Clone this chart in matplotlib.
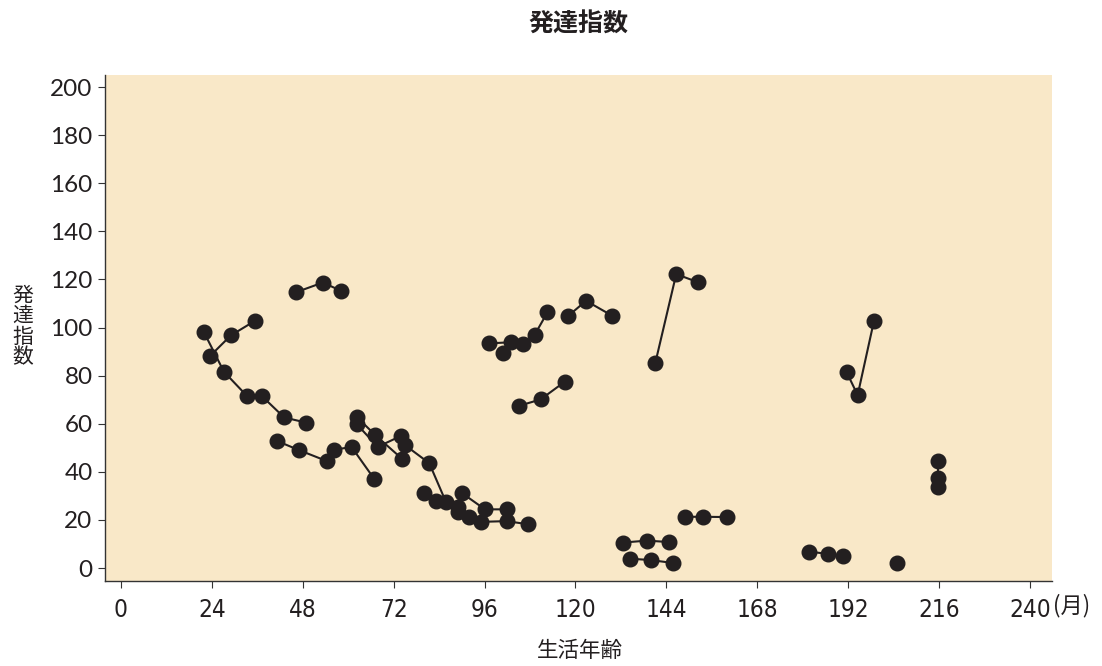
import matplotlib
matplotlib.use("Agg")
import matplotlib.pyplot as plt
import numpy as np

plt.rcParams['font.family'] = ['Noto Sans CJK JP', 'DejaVu Sans']

# case number, age in months, development quotient (one row per measurement)
case_id = [1, 1, 1, 1, 1, 1,
           2, 2, 2,
           3, 3, 3,
           4, 4, 4, 4, 4, 4,
           5, 5, 5,
           6, 6, 6, 6, 6, 6,
           7, 7, 7,
           8, 8, 8,
           9, 9, 9, 9, 9,
           10, 10, 10, 10, 10,
           11,
           12, 12, 12,
           13, 13, 13,
           14, 14, 14,
           15, 15, 15,
           16, 16, 16,
           17, 17, 17,
           18, 18, 18,
           19, 19, 19,
           20,
           21, 21, 21]
age_months = [21.9, 27.2, 33.3, 37.2, 43.1, 48.8,
              23.5, 29.0, 35.4,
              46.1, 53.3, 58.2,
              41.1, 46.9, 54.3, 56.2, 60.9, 66.9,
              62.2, 67.2, 74.3,
              62.2, 67.8, 73.9, 75.0, 81.4, 85.8,
              80.0, 83.3, 88.9,
              90.0, 96.1, 101.8,
              89.1, 92.0, 95.1, 101.8, 107.5,
              97.3, 103.1, 106.2, 109.2, 112.6,
              101.0,
              105.0, 110.8, 117.2,
              117.9, 122.8, 129.7,
              141.1, 146.6, 152.4,
              148.8, 153.7, 159.9,
              132.6, 138.9, 144.7,
              134.3, 140.0, 145.7,
              181.7, 186.6, 190.7,
              191.6, 194.5, 198.8,
              204.8,
              215.6, 215.6, 215.6]
dq = [98.1, 81.6, 71.5, 71.5, 62.6, 60.5,
      88.1, 96.7, 102.8,
      114.6, 118.7, 115.2,
      52.9, 49.1, 44.5, 49.2, 50.3, 37.0,
      62.9, 55.2, 45.3,
      59.9, 50.4, 54.9, 51.1, 43.6, 27.5,
      31.1, 27.8, 25.5,
      31.2, 24.4, 24.4,
      23.3, 21.4, 19.2, 19.5, 18.2,
      93.4, 93.9, 93.1, 96.9, 106.3,
      89.3,
      67.4, 70.1, 77.5,
      104.6, 111.1, 104.9,
      85.4, 122.2, 118.8,
      21.3, 21.3, 21.2,
      10.6, 11.4, 10.8,
      3.9, 3.3, 2.1,
      6.8, 5.9, 5.1,
      81.4, 71.9, 102.7,
      2.1,
      44.5, 37.3, 33.8]

x_ticks = [0, 24, 48, 72, 96, 120, 144, 168, 192, 216, 240]
y_ticks = [0, 20, 40, 60, 80, 100, 120, 140, 160, 180, 200]

ink = '#231f20'

fig = plt.figure(figsize=(11.02, 6.66), dpi=100)
ax = fig.add_axes([0.0953, 0.1276, 0.8593, 0.7598])
ax.set_facecolor('#f9e8c8')

ids = np.array(case_id)
xs = np.array(age_months)
ys = np.array(dq)
for c in np.unique(ids):
    m = ids == c
    ax.plot(xs[m], ys[m], color=ink, lw=1.5, marker='o', ms=10.5,
            mfc=ink, mec=ink, zorder=3)

ax.set_xlim(-4.2, 245.8)
ax.set_ylim(-5.4, 205)
ax.set_xticks(x_ticks)
ax.set_yticks(y_ticks)
ax.set_xticklabels([str(v) for v in x_ticks], family='DejaVu Sans',
                   fontstretch='condensed', fontsize=17.5)
ax.set_yticklabels([str(v) for v in y_ticks], family=['Lato', 'DejaVu Sans'],
                   fontsize=17.5)
ax.tick_params(axis='both', direction='out', length=5, width=0.8, colors='#333333',
               labelcolor=ink)
ax.tick_params(axis='x', pad=7)
ax.tick_params(axis='y', pad=4)

for side in ['top', 'right']:
    ax.spines[side].set_visible(False)
for side in ['left', 'bottom']:
    ax.spines[side].set_color('#333333')
    ax.spines[side].set_linewidth(1.0)

ax.text(246.2, -0.048, '(月)', transform=ax.get_xaxis_transform(), ha='left',
        va='center', fontsize=16, color=ink)

fig.text(0.525, 0.963, '発達指数', ha='center', va='center', fontsize=18,
         fontweight='bold', color=ink)
fig.text(0.526, 0.022, '生活年齢', ha='center', va='center', fontsize=15.5, color=ink)
fig.text(0.021, 0.51, '発\n達\n指\n数', ha='center', va='center', fontsize=15,
         color=ink, linespacing=0.92)

fig.savefig('out.png', dpi=100)
